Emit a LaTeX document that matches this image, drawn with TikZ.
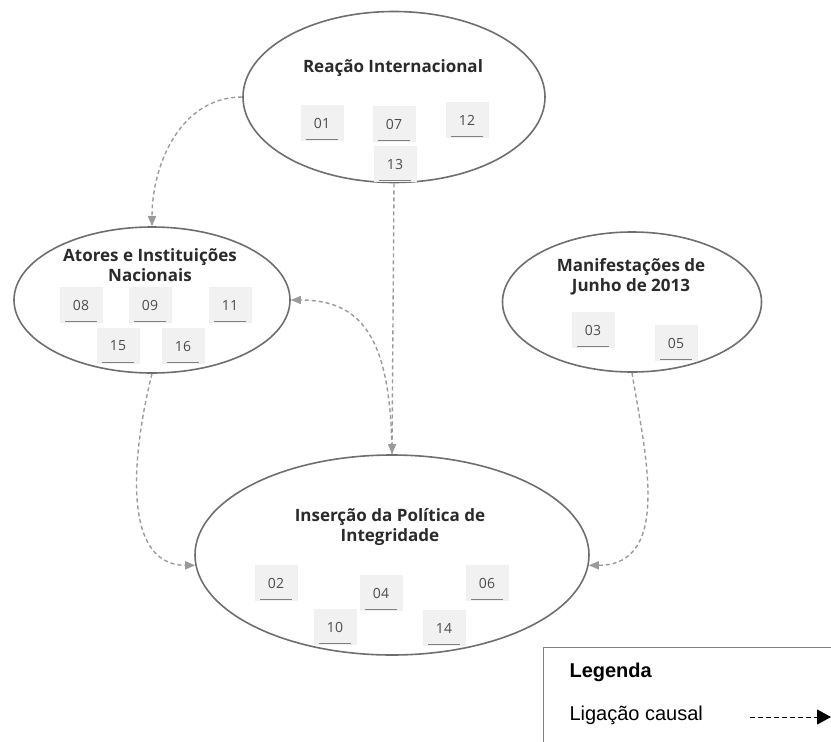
\documentclass[tikz,border=0pt]{standalone}
\usepackage{fontspec}
\setmainfont{Open Sans}
\newfontfamily\legendfont{Liberation Sans}
\usetikzlibrary{arrows.meta,shapes.geometric}

\definecolor{rim}{HTML}{6E6E6E}
\definecolor{linkgray}{HTML}{9A9A9A}
\definecolor{notefill}{HTML}{F1F1F1}
\definecolor{titletext}{HTML}{2A2A2A}

\tikzset{
  region/.style={ellipse, draw=rim, line width=1.6pt, inner sep=0pt},
  regiontitle/.style={align=center, text=titletext,
    font=\bfseries\fontsize{17}{20.5}\selectfont},
  notebox/.style={rectangle, fill=notefill, draw=black!6, line width=0.4pt,
    minimum width=42pt, minimum height=35pt, inner sep=0pt,
    text=black!70, font=\fontsize{14}{16}\selectfont,
    path picture={\draw[black!50, line width=2pt]
      ([xshift=5pt,yshift=1pt]path picture bounding box.south west) --
      ([xshift=-5pt,yshift=1pt]path picture bounding box.south east);}},
  causal/.style={draw=linkgray, line width=1.4pt, dash pattern=on 4pt off 3pt,
    -{Triangle[length=10pt,width=8pt,fill=linkgray]}},
}

\begin{document}
\begin{tikzpicture}[x=1pt,y=-1pt]
\useasboundingbox (0,0) rectangle (831,742);

% ---- regions ----
\node[region, minimum width=302pt, minimum height=171pt] (rea) at (394,97) {};
\node[region, minimum width=276pt, minimum height=146pt] (atr) at (152,300) {};
\node[region, minimum width=259pt, minimum height=140pt] (man) at (632,302) {};
\node[region, minimum width=394pt, minimum height=200pt] (ins) at (392,555) {};

% ---- titles ----
\node[regiontitle] (reaT) at (393,68) {Reação Internacional};
\node[regiontitle] (atrT) at (150,265) {Atores e Instituições\\Nacionais};
\node[regiontitle] (manT) at (631,277) {Manifestações de\\Junho de 2013};
\node[regiontitle] (insT) at (390,527) {Inserção da Política de\\Integridade};

% ---- document notes ----
\node[notebox] (n01) at (322,123) {01};
\node[notebox] (n07) at (394,124) {07};
\node[notebox] (n12) at (467,120) {12};
\node[notebox] (n13) at (395,164) {13};

\node[notebox] (n08) at (81,305) {08};
\node[notebox] (n09) at (150,305) {09};
\node[notebox] (n11) at (230,305) {11};
\node[notebox] (n15) at (118,346) {15};
\node[notebox] (n16) at (183,346) {16};

\node[notebox] (n03) at (593,330) {03};
\node[notebox] (n05) at (676,343) {05};

\node[notebox] (n02) at (276,583) {02};
\node[notebox] (n04) at (381,593) {04};
\node[notebox] (n06) at (487,583) {06};
\node[notebox] (n10) at (335,627) {10};
\node[notebox] (n14) at (444,628) {14};

% ---- causal links ----
\draw[causal] (rea.west) to[out=180, in=90] (atr.north);
\draw[causal] (rea.south) -- (ins.north);
\draw[causal] (ins.north) .. controls +(-1,-115) and +(72,0) .. (atr.east);
\draw[causal] (atr.south) .. controls +(-17,67) and +(-78,0) .. (ins.183.5);
\draw[causal] (man.south) .. controls +(12,75) and +(85,0) .. (ins.-3.5);

% ---- legend ----
\draw[black!50, line width=0.8pt] (831,647) -- (543,647) -- (543,742);
\node[anchor=west, font=\legendfont\bfseries\fontsize{20}{24}\selectfont]
  (legT) at (566,672) {Legenda};
\node[anchor=west, font=\legendfont\fontsize{20}{24}\selectfont]
  (legL) at (566,715) {Ligação causal};
\coordinate (legA) at (750,717);
\coordinate (legB) at (831,717);
\draw[black, line width=1pt, dash pattern=on 5pt off 3pt,
  -{Triangle[length=14pt,width=15pt]}] (legA) -- (legB);
\end{tikzpicture}
\end{document}
